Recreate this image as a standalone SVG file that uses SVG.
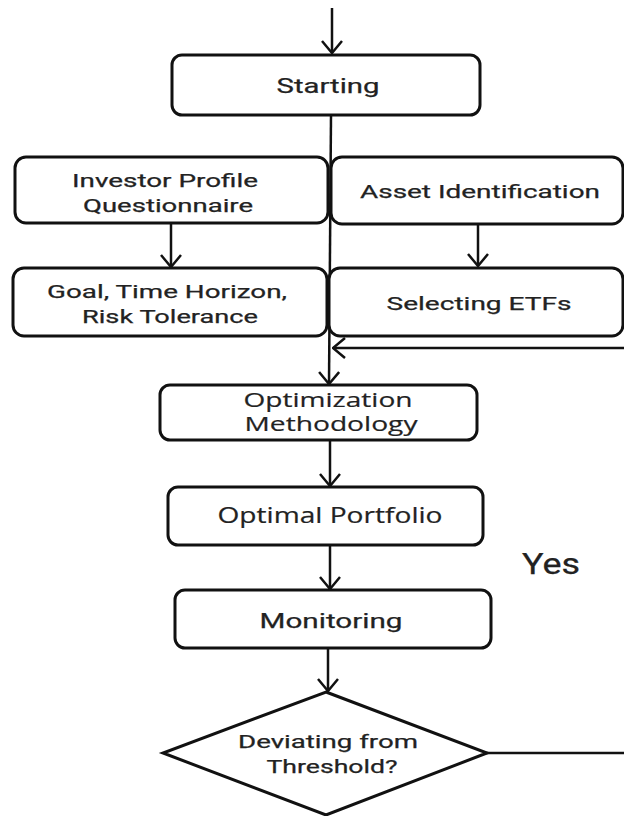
<svg xmlns="http://www.w3.org/2000/svg" width="624" height="816" viewBox="0 0 624 816">
<style>
.box{fill:#fff;stroke:#111;stroke-width:3}
.t{font-family:Roboto,"Liberation Sans",sans-serif;font-weight:400;fill:#222;stroke:#222;stroke-width:0.25;text-anchor:middle}
.o{font-family:"Open Sans","Noto Sans",sans-serif;font-weight:400;fill:#222;stroke:#222;stroke-width:0.2;text-anchor:middle}
.c{fill:none;stroke:#111;stroke-width:2.5}
</style>
<defs>
<marker id="ah" viewBox="0 0 14 22" refX="13" refY="11" markerWidth="14" markerHeight="22" markerUnits="userSpaceOnUse" orient="auto">
<path d="M1,1 L13,11 L1,21" fill="none" stroke="#111" stroke-width="2.5"/>
</marker>
</defs>
<rect width="624" height="816" fill="#fff"/>
<g id="connectors">
<path class="c" d="M332,8 V53" marker-end="url(#ah)"/>
<path class="c" d="M331,115 L329,384" marker-end="url(#ah)"/>
<path class="c" d="M171,223 V267" marker-end="url(#ah)"/>
<path class="c" d="M478,224 V266" marker-end="url(#ah)"/>
<path class="c" d="M624,348 H333" marker-end="url(#ah)"/>
<path class="c" d="M330,440 V486" marker-end="url(#ah)"/>
<path class="c" d="M330,545 V589" marker-end="url(#ah)"/>
<path class="c" d="M328,648 V691" marker-end="url(#ah)"/>
<path class="c" d="M486,753 H624"/>
</g>
<g id="starting">
<rect class="box" x="172" y="55" width="308" height="60" rx="10"/>
<text class="t" x="328" y="93" font-size="21" textLength="103" lengthAdjust="spacingAndGlyphs">Starting</text>
</g>
<g id="investor">
<rect class="box" x="15" y="157" width="313" height="66" rx="11"/>
<text class="t" x="165" y="187" font-size="19" textLength="186" lengthAdjust="spacingAndGlyphs">Investor Profile</text>
<text class="t" x="168" y="212" font-size="19" textLength="170" lengthAdjust="spacingAndGlyphs">Questionnaire</text>
</g>
<g id="asset">
<rect class="box" x="331" y="157" width="292" height="67" rx="11"/>
<text class="t" x="480" y="198" font-size="19" textLength="240" lengthAdjust="spacingAndGlyphs">Asset Identification</text>
</g>
<g id="goal">
<rect class="box" x="13" y="268" width="314" height="68" rx="11"/>
<text class="t" x="167" y="298" font-size="19" textLength="240" lengthAdjust="spacingAndGlyphs">Goal, Time Horizon,</text>
<text class="t" x="170" y="323" font-size="19" textLength="176" lengthAdjust="spacingAndGlyphs">Risk Tolerance</text>
</g>
<g id="selecting">
<rect class="box" x="329" y="268" width="294" height="68" rx="11"/>
<text class="t" x="479" y="310" font-size="19" textLength="185" lengthAdjust="spacingAndGlyphs">Selecting ETFs</text>
</g>
<g id="optimization">
<rect class="box" x="160" y="385" width="317" height="55" rx="10"/>
<text class="o" x="328" y="407" font-size="20.5" textLength="169" lengthAdjust="spacingAndGlyphs">Optimization</text>
<text class="o" x="331" y="431" font-size="20.5" textLength="173" lengthAdjust="spacingAndGlyphs">Methodology</text>
</g>
<g id="optimal">
<rect class="box" x="168" y="487" width="315" height="58" rx="10"/>
<text class="o" x="330" y="523" font-size="21" textLength="225" lengthAdjust="spacingAndGlyphs">Optimal Portfolio</text>
</g>
<g id="monitoring">
<rect class="box" x="175" y="590" width="316" height="58" rx="10"/>
<text class="t" x="331" y="628" font-size="21" textLength="143" lengthAdjust="spacingAndGlyphs">Monitoring</text>
</g>
<g id="decision">
<polygon class="box" points="326,692 487,753 326,815 163,753"/>
<text class="t" x="328" y="748" font-size="19" textLength="180" lengthAdjust="spacingAndGlyphs">Deviating from</text>
<text class="t" x="332" y="773" font-size="19" textLength="131" lengthAdjust="spacingAndGlyphs">Threshold?</text>
</g>
<g id="yes-label">
<text class="t" x="551" y="574" font-size="29" textLength="58" lengthAdjust="spacingAndGlyphs">Yes</text>
</g>
</svg>
